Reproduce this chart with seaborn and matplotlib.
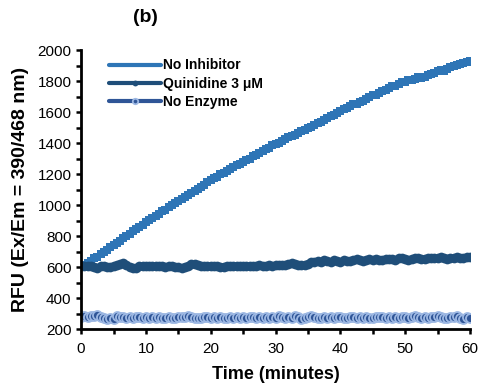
import numpy as np
import pandas as pd
import matplotlib
matplotlib.use("Agg")
import matplotlib.pyplot as plt
from matplotlib.ticker import MultipleLocator
import seaborn as sns

# time points, every 0.5 min
time_min = np.arange(0, 60.5, 0.5)

no_inhibitor = [
    600, 612, 628, 640, 657, 668, 683, 700, 712, 728, 745, 756, 770, 787, 800, 812, 830, 846, 858, 874, 890,
    902, 918, 930, 944, 960, 968, 985, 1000, 1012, 1025, 1038, 1050, 1066, 1078, 1090, 1105, 1120, 1132, 1150, 1165,
    1172, 1180, 1198, 1210, 1222, 1230, 1245, 1258, 1265, 1280, 1292, 1300, 1315, 1322, 1338, 1350, 1362, 1370, 1385, 1395,
    1402, 1416, 1425, 1438, 1445, 1452, 1468, 1480, 1485, 1500, 1505, 1520, 1532, 1538, 1550, 1560, 1575, 1582, 1595, 1610,
    1618, 1625, 1640, 1652, 1655, 1668, 1675, 1688, 1700, 1710, 1712, 1725, 1738, 1742, 1755, 1766, 1770, 1780, 1792, 1795,
    1805, 1808, 1815, 1830, 1822, 1828, 1840, 1848, 1852, 1865, 1870, 1868, 1880, 1890, 1895, 1902, 1910, 1915, 1925, 1932,
]

quinidine = [
    606, 610, 604, 608, 600, 596, 604, 608, 602, 598, 606, 612, 620, 626, 612, 598, 592, 596, 604, 608, 610,
    606, 604, 608, 610, 606, 602, 606, 604, 598, 600, 596, 602, 610, 618, 622, 614, 606, 604, 608, 606,
    604, 606, 602, 600, 604, 608, 606, 604, 606, 608, 610, 606, 608, 610, 612, 608, 610, 612, 610, 614,
    612, 616, 614, 618, 624, 620, 616, 612, 614, 618, 636, 632, 640, 636, 644, 638, 634, 646, 640, 636,
    648, 642, 638, 646, 650, 644, 640, 646, 650, 648, 652, 646, 644, 650, 654, 652, 648, 656, 658, 652,
    646, 650, 656, 660, 654, 650, 658, 662, 656, 660, 664, 658, 652, 660, 662, 664, 658, 662, 666, 664,
]

no_enzyme = [
    280, 284, 278, 286, 282, 288, 276, 270, 264, 272, 268, 284, 278, 276, 274, 276, 272, 278, 276, 274, 276,
    272, 276, 270, 278, 274, 272, 276, 270, 274, 278, 276, 280, 286, 276, 270, 274, 272, 278, 276, 274,
    276, 272, 278, 274, 270, 276, 274, 278, 272, 276, 274, 278, 276, 272, 276, 274, 278, 272, 276, 274,
    282, 276, 270, 278, 274, 284, 276, 266, 272, 280, 286, 276, 270, 274, 276, 272, 278, 274, 276, 278,
    274, 270, 278, 276, 274, 278, 272, 276, 274, 272, 276, 280, 276, 274, 278, 270, 276, 274, 278, 276,
    274, 278, 284, 276, 274, 278, 272, 276, 280, 286, 276, 272, 274, 278, 276, 282, 270, 268, 276, 274,
]

sns.set_style("ticks")
plt.rcParams['font.family'] = ['Liberation Sans', 'DejaVu Sans']
plt.rcParams['text.color'] = 'black'
plt.rcParams['axes.labelcolor'] = 'black'
plt.rcParams['xtick.color'] = 'black'
plt.rcParams['ytick.color'] = 'black'

fig = plt.figure(figsize=(4.8, 3.89), dpi=100)
ax = fig.add_axes([0.169, 0.154, 0.81, 0.717])

sns.lineplot(x=time_min, y=no_inhibitor, ax=ax, color="#2E75B6", lw=4,
             marker="s", markersize=6, markeredgewidth=0, label="No Inhibitor")
sns.lineplot(x=time_min, y=quinidine, ax=ax, color="#1F4E79", lw=4,
             marker="o", markersize=7, markeredgewidth=0, label="Quinidine 3 μM")
sns.lineplot(x=time_min, y=no_enzyme, ax=ax, color="#2F5597", lw=3,
             marker="o", markersize=6.5, markerfacecolor="#2F5597",
             markeredgecolor="#9DB8E3", markeredgewidth=1.3, label="No Enzyme")

ax.set_xlim(0, 60)
ax.set_ylim(200, 2000)
ax.xaxis.set_major_locator(MultipleLocator(10))
ax.xaxis.set_minor_locator(MultipleLocator(5))
ax.yaxis.set_major_locator(MultipleLocator(200))
ax.yaxis.set_minor_locator(MultipleLocator(100))
ax.tick_params(which="both", direction="out", width=1.8, length=3.5, color="black",
               labelcolor="black", labelsize=11)
ax.tick_params(axis="x", which="both", pad=6)
for side in ["top", "right"]:
    ax.spines[side].set_visible(False)
for side in ["left", "bottom"]:
    ax.spines[side].set_linewidth(2)
    ax.spines[side].set_color("black")

ax.set_xlabel("Time (minutes)", fontsize=13, fontweight="bold", labelpad=7)
ax.set_ylabel("RFU (Ex/Em = 390/468 nm)", fontsize=14, fontweight="bold", labelpad=6)

leg = ax.legend(loc="upper left", bbox_to_anchor=(0.04, 1.015), frameon=False,
                handlelength=3.7, handletextpad=0.2, labelspacing=0.3,
                markerscale=0.6, prop={"weight": "bold", "size": 10})
for line in leg.get_lines():
    line.set_linewidth(3)

fig.text(0.302, 0.955, "(b)", fontsize=14, fontweight="bold", ha="center", va="center")

fig.savefig("out.png", dpi=100)
